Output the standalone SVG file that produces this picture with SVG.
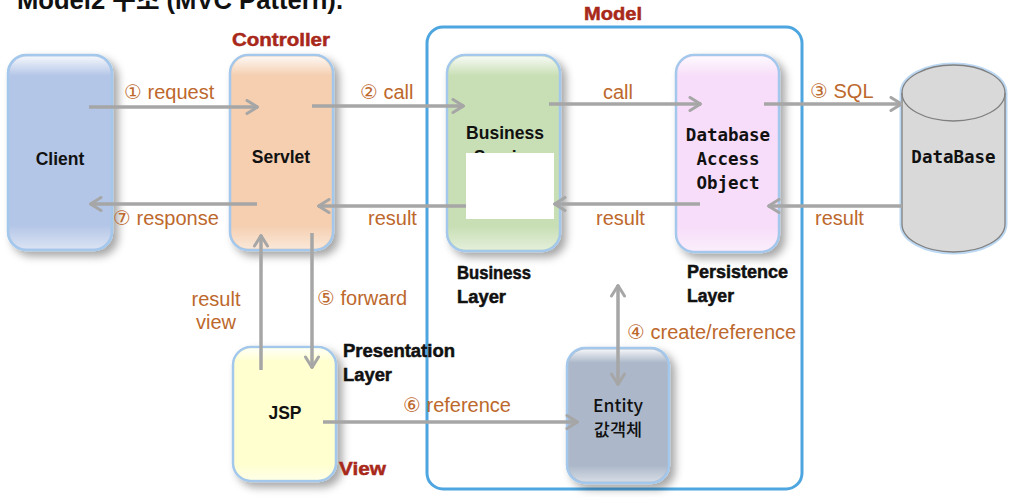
<svg xmlns="http://www.w3.org/2000/svg" width="1024" height="497" viewBox="0 0 1024 497">
<defs>
  <style>
    .node{stroke:#a3c8ec;stroke-width:2.5}
    .ntext{font-family:"Liberation Sans",Arial,sans-serif;font-weight:bold;font-size:17.5px;fill:#111;text-anchor:middle}
    .mono{font-family:"DejaVu Sans Mono","Liberation Mono",monospace;font-weight:bold;font-size:17.5px;fill:#111;text-anchor:middle}
    .lbl{font-family:"Liberation Sans",Arial,"DejaVu Sans",sans-serif;font-size:20px;fill:#bd682c}
    .layer{font-family:"Liberation Sans",Arial,sans-serif;font-weight:bold;font-size:17.5px;fill:#111;stroke:#111;stroke-width:0.5}
    .red{font-family:"Liberation Sans",Arial,sans-serif;font-weight:bold;font-size:19px;fill:#a8281a;stroke:#a8281a;stroke-width:0.5}
    .conn{stroke:#a6a6a6;stroke-width:3.5;fill:none}
  </style>
  <marker id="arr" viewBox="0 0 14 16" refX="13" refY="8" markerWidth="14" markerHeight="16" markerUnits="userSpaceOnUse" orient="auto-start-reverse">
    <path d="M2,1.5 L12.5,8 L2,14.5" fill="none" stroke="#a6a6a6" stroke-width="3" stroke-linecap="round" stroke-linejoin="round"/>
  </marker>
  <filter id="sh" x="-20%" y="-20%" width="150%" height="150%">
    <feDropShadow dx="5" dy="5" stdDeviation="4" flood-color="#000" flood-opacity="0.35"/>
  </filter>
  <linearGradient id="gloss" x1="0" y1="0" x2="0" y2="1">
    <stop offset="0" stop-color="#fff" stop-opacity="0.85"/>
    <stop offset="0.1" stop-color="#fff" stop-opacity="0"/>
    <stop offset="0.88" stop-color="#fff" stop-opacity="0"/>
    <stop offset="1" stop-color="#fff" stop-opacity="0.5"/>
  </linearGradient>
</defs>
<rect width="1024" height="497" fill="#fff"/>

<text x="17" y="9" font-family="'Liberation Sans','Noto Sans CJK KR',sans-serif" font-weight="bold" font-size="25" fill="#111" textLength="326" lengthAdjust="spacingAndGlyphs">Model2 구조 (MVC Pattern).</text>

<g id="model-group">
  <rect x="427" y="27" width="375" height="462" rx="16" fill="none" stroke="#4ea6e0" stroke-width="3"/>
  <text x="584" y="20" class="red" textLength="58" lengthAdjust="spacingAndGlyphs">Model</text>
</g>

<g id="client">
  <rect x="8" y="55" width="104" height="195" rx="18" fill="#b4c6e7" class="node" filter="url(#sh)"/>
  <rect x="9.5" y="56.5" width="101" height="192" rx="17" fill="url(#gloss)"/>
  <text x="60" y="165" class="ntext" font-size="18">Client</text>
</g>

<g id="servlet">
  <text x="232" y="46" class="red" textLength="98" lengthAdjust="spacingAndGlyphs">Controller</text>
  <rect x="230" y="55" width="103" height="195" rx="18" fill="#f5cfb0" class="node" filter="url(#sh)"/>
  <rect x="231.5" y="56.5" width="100" height="192" rx="17" fill="url(#gloss)"/>
  <text x="281" y="163" class="ntext" font-size="18">Servlet</text>
</g>

<g id="business">
  <rect x="447" y="55" width="113" height="196" rx="18" fill="#c8dfb5" class="node" filter="url(#sh)"/>
  <rect x="448.5" y="56.5" width="110" height="193" rx="17" fill="url(#gloss)"/>
  <text x="505" y="139" class="ntext" font-size="17">Business</text>
  <text x="505" y="163" class="ntext" font-size="17">Service</text>
  <rect x="466" y="153" width="88" height="66" fill="#fff"/>
  <text x="457" y="279" class="layer" textLength="74" lengthAdjust="spacingAndGlyphs">Business</text>
  <text x="457" y="303" class="layer" textLength="49" lengthAdjust="spacingAndGlyphs">Layer</text>
</g>

<g id="dao">
  <rect x="676" y="55" width="103" height="197" rx="18" fill="#f7ddf9" class="node" filter="url(#sh)"/>
  <rect x="677.5" y="56.5" width="100" height="194" rx="17" fill="url(#gloss)"/>
  <text x="728" y="141" class="mono">Database</text>
  <text x="728" y="165" class="mono">Access</text>
  <text x="728" y="189" class="mono">Object</text>
  <text x="687" y="278" class="layer" textLength="101" lengthAdjust="spacingAndGlyphs">Persistence</text>
  <text x="687" y="302" class="layer" textLength="47" lengthAdjust="spacingAndGlyphs">Layer</text>
</g>

<g id="database">
  <path d="M902,93 A51.5,28 0 0 1 1005,93 L1005,224 A51.5,28 0 0 1 902,224 Z" fill="#d9d9d9" stroke="#bcd8f2" stroke-width="5"/>
  <path d="M902,93 A51.5,28 0 0 1 1005,93 L1005,224 A51.5,28 0 0 1 902,224 Z" fill="#d9d9d9" stroke="#808080" stroke-width="1.3"/>
  <path d="M902,93 A51.5,28 0 0 0 1005,93" fill="none" stroke="#808080" stroke-width="1.3"/>
  <text x="953.5" y="163" class="mono" font-size="17.5">DataBase</text>
</g>

<g id="jsp">
  <rect x="233" y="347" width="103" height="134" rx="18" fill="#ffffcf" class="node" filter="url(#sh)"/>
  <rect x="234.5" y="348.5" width="100" height="131" rx="17" fill="url(#gloss)"/>
  <text x="285" y="419" class="ntext" font-size="17">JSP</text>
  <text x="343" y="357" class="layer" textLength="112" lengthAdjust="spacingAndGlyphs">Presentation</text>
  <text x="343" y="381" class="layer" textLength="49" lengthAdjust="spacingAndGlyphs">Layer</text>
  <text x="339" y="475" class="red" textLength="47" lengthAdjust="spacingAndGlyphs">View</text>
</g>

<g id="entity">
  <rect x="567" y="348" width="102" height="135" rx="18" fill="#acb8ca" class="node" filter="url(#sh)"/>
  <rect x="568.5" y="349.5" width="99" height="132" rx="17" fill="url(#gloss)"/>
  <text x="618" y="412" font-family="'Noto Sans CJK KR','Noto Sans',sans-serif" font-weight="500" font-size="17.5" fill="#111" text-anchor="middle">Entity</text>
  <text x="618" y="436" font-family="'Noto Sans CJK KR',sans-serif" font-weight="500" font-size="17.5" fill="#111" text-anchor="middle">값객체</text>
</g>

<g id="connectors">
  <line x1="89" y1="107" x2="258" y2="107" class="conn" marker-end="url(#arr)"/>
  <text x="124" y="99" class="lbl">① request</text>

  <line x1="257" y1="204" x2="90" y2="204" class="conn" marker-end="url(#arr)"/>
  <text x="113" y="225" class="lbl">⑦ response</text>

  <line x1="312" y1="106" x2="464" y2="106" class="conn" marker-end="url(#arr)"/>
  <text x="360" y="99" class="lbl">② call</text>

  <line x1="466" y1="206" x2="318" y2="206" class="conn" marker-end="url(#arr)"/>
  <text x="368" y="225" class="lbl">result</text>

  <line x1="549" y1="104" x2="701" y2="104" class="conn" marker-end="url(#arr)"/>
  <text x="603" y="99" class="lbl">call</text>

  <line x1="700" y1="204" x2="554" y2="204" class="conn" marker-end="url(#arr)"/>
  <text x="596" y="225" class="lbl">result</text>

  <line x1="764" y1="104" x2="902" y2="104" class="conn" marker-end="url(#arr)"/>
  <text x="810" y="98" class="lbl">③ SQL</text>

  <line x1="902" y1="206" x2="768" y2="206" class="conn" marker-end="url(#arr)"/>
  <text x="815" y="225" class="lbl">result</text>

  <line x1="261" y1="370" x2="261" y2="235" class="conn" marker-end="url(#arr)"/>
  <text x="216" y="306" class="lbl" text-anchor="middle">result</text>
  <text x="216" y="329" class="lbl" text-anchor="middle">view</text>

  <line x1="312" y1="233" x2="312" y2="368" class="conn" marker-end="url(#arr)"/>
  <text x="317" y="305" class="lbl">⑤ forward</text>

  <line x1="323" y1="422" x2="578" y2="422" class="conn" marker-end="url(#arr)"/>
  <text x="403" y="412" class="lbl">⑥ reference</text>

  <line x1="618" y1="285" x2="618" y2="385" class="conn" marker-start="url(#arr)" marker-end="url(#arr)"/>
  <text x="627" y="339" class="lbl">④ create/reference</text>
</g>
</svg>
